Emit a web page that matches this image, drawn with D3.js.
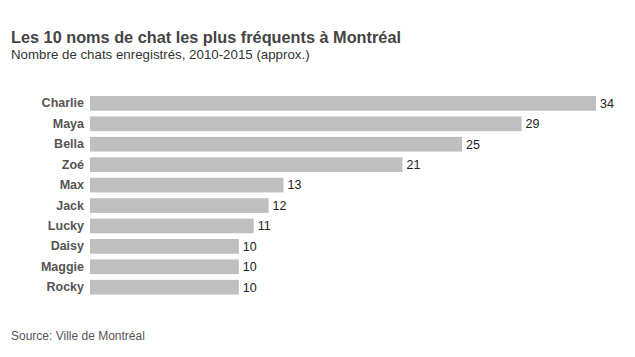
<!DOCTYPE html>
<html><head><meta charset="utf-8">
<script src="https://cdn.jsdelivr.net/npm/d3@7"></script>
<style>body{margin:0;background:#fff;font-family:"Liberation Sans",Arial,sans-serif;}</style>
</head><body><div id="chart"></div>
<script>
const names = ["Charlie","Maya","Bella","Zoé","Max","Jack","Lucky","Daisy","Maggie","Rocky"];
const counts = [34,29,25,21,13,12,11,10,10,10];
const title = "Les 10 noms de chat les plus fréquents à Montréal";
const subtitle = "Nombre de chats enregistrés, 2010-2015 (approx.)";
const source = "Source: Ville de Montréal";

const W = 635, H = 357;
const svg = d3.select("#chart").append("svg").attr("width", W).attr("height", H);
svg.append("rect").attr("width", W).attr("height", H).attr("fill", "#fff");

const x = d3.scaleLinear().domain([0, 34]).range([90, 596]);
const y = d3.scaleBand().domain(names).range([94, 296.6]).paddingInner(0.28).paddingOuter(0.1);

svg.append("text").attr("x", 11).attr("y", 43).attr("font-size", 16.3).attr("font-weight", "bold")
  .attr("fill", "#444").text(title);
svg.append("text").attr("x", 11).attr("y", 59).attr("font-size", 13.3).attr("fill", "#333").text(subtitle);

svg.selectAll("rect.bar").data(names).join("rect").attr("class", "bar")
  .attr("x", x(0)).attr("y", d => y(d))
  .attr("width", (d, i) => x(counts[i]) - x(0)).attr("height", y.bandwidth())
  .attr("fill", "#bfbfbf");

const yAxis = svg.append("g").attr("transform", `translate(${x(0)},0)`)
  .call(d3.axisLeft(y).tickSize(0).tickPadding(6));
yAxis.select(".domain").remove();
yAxis.selectAll("text").attr("font-size", 12.5).attr("font-weight", "bold").attr("fill", "#555")
  .attr("font-family", "Liberation Sans, Arial, sans-serif");

svg.selectAll("text.val").data(names).join("text").attr("class", "val")
  .attr("x", (d, i) => x(counts[i]) + 4).attr("y", d => y(d) + y.bandwidth() / 2)
  .attr("dy", "0.35em").attr("font-size", 12.5).attr("fill", "#222").text((d, i) => counts[i]);

svg.append("text").attr("x", 11).attr("y", 340).attr("font-size", 12).attr("fill", "#555").text(source);
</script></body></html>
